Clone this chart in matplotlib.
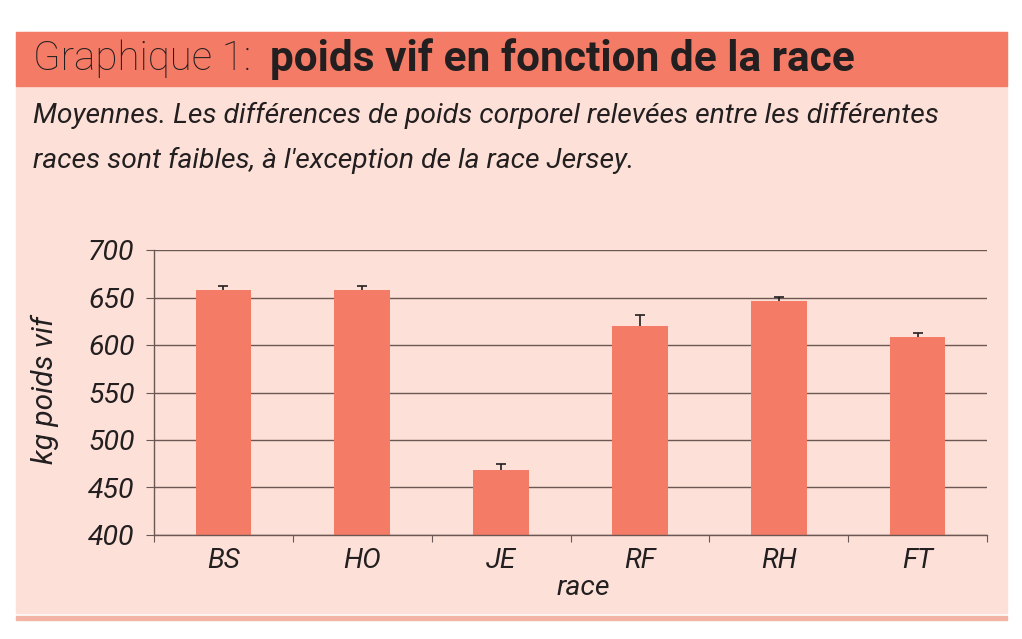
import matplotlib.pyplot as plt
from matplotlib.patches import Rectangle

# data
races = ["BS", "HO", "JE", "RF", "RH", "FT"]
poids = [658, 658, 468, 620, 646, 608]
erreur = [4, 4, 7, 12, 5, 5]

# colours
salmon = "#F47B66"
pale = "#FDE1D8"
dark = "#231F20"
grid_col = "#6B5753"

plt.rcParams['font.family'] = ['Roboto', 'DejaVu Sans']

fig = plt.figure(figsize=(10.22, 6.39), dpi=100)
fig.patch.set_facecolor("white")

# background panel and header band, on an axes placed behind the chart
bg = fig.add_axes([0, 0, 1, 1], zorder=-1)
bg.set_xlim(0, 1022)
bg.set_ylim(639, 0)
bg.axis("off")
bg.add_patch(Rectangle((16, 32), 991, 581, color=pale))
bg.add_patch(Rectangle((16, 32), 991, 54, color=salmon))
bg.add_patch(Rectangle((16, 616), 991, 4, color="#F3B3A5"))

fig.text(33/1022, 1 - 59/639, "Graphique 1:", fontsize=29, fontweight="light",
         color=dark, va="center", ha="left")
fig.text(270/1022, 1 - 59/639, "poids vif en fonction de la race", fontsize=30.5,
         fontweight="bold", color=dark, va="center", ha="left")
fig.text(33/1022, 1 - 115/639,
         "Moyennes. Les différences de poids corporel relevées entre les différentes",
         fontsize=20.3, style="italic", color=dark, va="center", ha="left")
fig.text(33/1022, 1 - 160/639, "races sont faibles, à l'exception de la race Jersey.",
         fontsize=20.3, style="italic", color=dark, va="center", ha="left")

ax = fig.add_axes([154/1022, 1 - 535/639, 833/1022, 285/639], zorder=2)
ax.set_facecolor("none")
x = range(len(races))
ax.bar(x, poids, width=0.4, color=salmon, zorder=3)
# error bars drawn under the bars so only the upper half shows, as in Excel
ax.errorbar(x, poids, yerr=erreur, fmt="none", ecolor=dark,
            elinewidth=1.2, capsize=3.5, capthick=1.2, zorder=2)

ax.set_ylim(400, 700)
ax.set_xlim(-0.5, len(races) - 0.5)
ax.set_yticks(range(400, 701, 50))
ax.yaxis.grid(True, color=grid_col, linewidth=1, zorder=1)
ax.set_axisbelow(True)

for s in ["top", "right"]:
    ax.spines[s].set_visible(False)
for s in ["left", "bottom"]:
    ax.spines[s].set_color(grid_col)
    ax.spines[s].set_linewidth(1)
    ax.spines[s].set_zorder(4)

ax.set_xticks([i - 0.5 for i in range(len(races) + 1)])
ax.set_xticklabels([])
ax.set_xticks(list(x), minor=True)
ax.set_xticklabels(races, minor=True, fontsize=20, style="italic", color=dark)
ax.tick_params(axis="x", which="major", length=5, color=grid_col, direction="out")
ax.tick_params(axis="x", which="minor", length=0, pad=9)
ax.tick_params(axis="y", length=6, color=grid_col, labelsize=20.5, labelcolor=dark, pad=8)
for lab in ax.get_yticklabels():
    lab.set_style("italic")

fig.text(45/1022, 1 - 390/639, "kg poids vif", fontsize=21.5, style="italic",
         color=dark, rotation=90, va="center", ha="center")
fig.text(583/1022, 1 - 588/639, "race", fontsize=20.5, style="italic",
         color=dark, va="center", ha="center")

fig.savefig("out.png", dpi=100, facecolor=fig.get_facecolor())
